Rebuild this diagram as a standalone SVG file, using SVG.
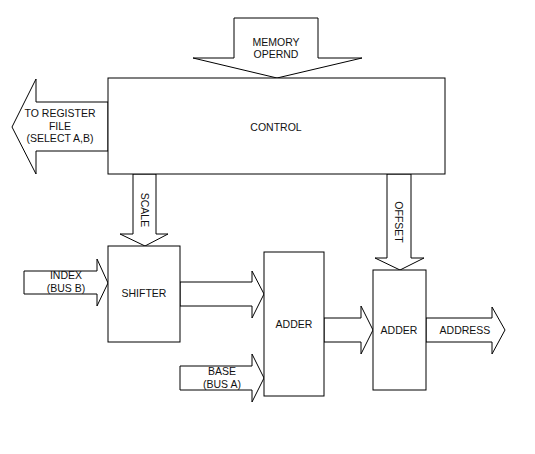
<svg xmlns="http://www.w3.org/2000/svg" width="535" height="454" viewBox="0 0 535 454">
<style>
.box{fill:#fff;stroke:#000;stroke-width:1}
.arr{fill:#fff;stroke:#000;stroke-width:1;stroke-linejoin:miter}
text{font-family:"Liberation Sans",Arial,sans-serif;font-size:10.5px;fill:#111;text-anchor:middle}
</style>
<rect width="535" height="454" fill="#fff"/>
<g id="connectors">
<polygon class="arr" points="234,18 318,18 318,58 362,58 277,78 193,58 234,58"/>
<polygon class="arr" points="108,102 36,102 36,79 12,127 36,174 36,151 108,151"/>
<polygon class="arr" points="133,174 156,174 156,234 168,234 145,246 120,234 133,234"/>
<polygon class="arr" points="387,174 411,174 411,258 424,258 400,270 375,258 387,258"/>
<polygon class="arr" points="24,271 97,271 97,259 108,283 97,306 97,294 24,294"/>
<polygon class="arr" points="180,282 252,282 252,271 264,294 252,318 252,306 180,306"/>
<polygon class="arr" points="180,366 252,366 252,354 264,378 252,402 252,390 180,390"/>
<polygon class="arr" points="324,318 361,318 361,306 373,330 361,354 361,342 324,342"/>
<polygon class="arr" points="426,318 492,318 492,307 505,330 492,354 492,342 426,342"/>
<text x="276" y="46">MEMORY</text>
<text x="276" y="58">OPERND</text>
<text x="60" y="117">TO REGISTER</text>
<text x="60" y="130">FILE</text>
<text x="60" y="142">(SELECT A,B)</text>
<text transform="translate(141,210) rotate(90)">SCALE</text>
<text transform="translate(395,222) rotate(90)">OFFSET</text>
<text x="66" y="279">INDEX</text>
<text x="66" y="292">(BUS B)</text>
<text x="222" y="375">BASE</text>
<text x="222" y="388">(BUS A)</text>
<text x="465" y="334">ADDRESS</text>
</g>
<g id="control">
<rect class="box" x="108" y="78" width="337" height="96"/>
<text x="276" y="131">CONTROL</text>
</g>
<g id="shifter">
<rect class="box" x="108" y="246" width="72" height="96"/>
<text x="144" y="297">SHIFTER</text>
</g>
<g id="adder1">
<rect class="box" x="264" y="252" width="60" height="144"/>
<text x="294" y="328">ADDER</text>
</g>
<g id="adder2">
<rect class="box" x="373" y="270" width="53" height="120"/>
<text x="399" y="334">ADDER</text>
</g>
</svg>
